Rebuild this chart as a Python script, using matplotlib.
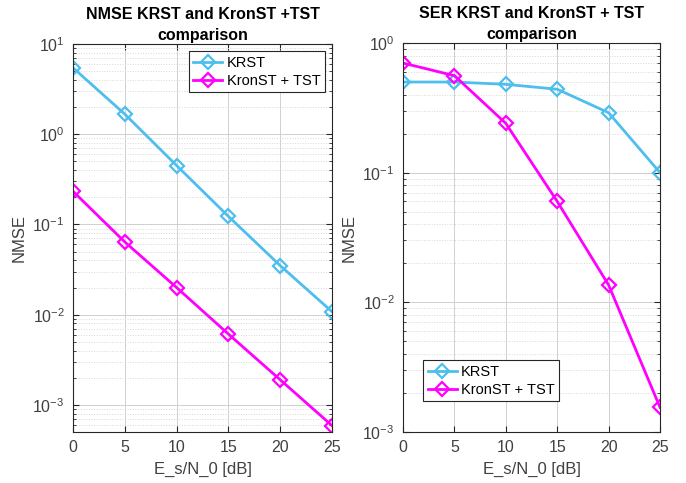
"""NMSE i SER - comparació KRST i KronST + TST"""

import matplotlib
matplotlib.use("Agg")
import matplotlib.pyplot as plt
from matplotlib.ticker import LogLocator, NullFormatter

plt.rcParams["font.family"] = ["Liberation Sans", "DejaVu Sans"]

# Dades
snr_db = [0, 5, 10, 15, 20, 25]
nmse_krst = [5.45, 1.67, 0.45, 0.123, 0.035, 0.0108]
nmse_kronst = [0.233, 0.064, 0.020, 0.0061, 0.0019, 0.00059]
ser_krst = [0.50, 0.50, 0.48, 0.44, 0.29, 0.10]
ser_kronst = [0.70, 0.56, 0.24, 0.060, 0.0136, 0.00155]

COLOR_KRST = "#4DBEEE"
COLOR_KRON = "#FF00FF"


def estil_eixos(ax):
    ax.set_yscale("log")
    ax.set_xlim(0, 25)
    ax.set_xticks(snr_db)
    ax.yaxis.set_major_locator(LogLocator(base=10, numticks=10))
    ax.yaxis.set_minor_locator(LogLocator(base=10, subs=range(2, 10), numticks=20))
    ax.yaxis.set_minor_formatter(NullFormatter())
    ax.grid(which="major", color="#d0d0d0", linewidth=0.7)
    ax.grid(which="minor", axis="y", color="#d8d8d8", linestyle=":", linewidth=0.7)
    ax.set_axisbelow(True)
    ax.tick_params(which="both", direction="in", top=True, right=True,
                   labelsize=11.5, colors="#262626", labelcolor="#404040")
    ax.tick_params(which="major", length=4, pad=6)
    ax.tick_params(which="minor", length=2)
    for s in ax.spines.values():
        s.set_color("#262626")
        s.set_linewidth(0.8)
    ax.set_xlabel("E_s/N_0 [dB]", fontsize=12, color="#404040", labelpad=5)
    ax.set_ylabel("NMSE", fontsize=12, color="#404040")


fig = plt.figure(figsize=(6.86, 4.83), dpi=100)
W, H = 686, 483
ax1 = fig.add_axes([73 / W, 1 - 432 / H, (332 - 73) / W, (432 - 44) / H])
ax2 = fig.add_axes([403 / W, 1 - 432 / H, (660 - 403) / W, (432 - 43) / H])

kw = dict(marker="D", markersize=7, markerfacecolor="none",
          markeredgewidth=1.6, linewidth=2)

# Gràfic NMSE
ax1.plot(snr_db, nmse_krst, color=COLOR_KRST, label="KRST", **kw)
ax1.plot(snr_db, nmse_kronst, color=COLOR_KRON, label="KronST + TST", **kw)
estil_eixos(ax1)
ax1.set_ylim(10 ** -3.3, 10)
ax1.set_title("NMSE KRST and KronST +TST\ncomparison", fontsize=11.5,
              fontweight="bold", pad=3, linespacing=1.45)
leg1 = ax1.legend(loc="upper right", fontsize=10.5, fancybox=False,
                  edgecolor="#262626", framealpha=1, borderaxespad=0.5,
                  handlelength=2.0, borderpad=0.3, labelspacing=0.3,
                  handletextpad=0.3)
leg1.get_frame().set_linewidth(0.8)

# Gràfic SER
ax2.plot(snr_db, ser_krst, color=COLOR_KRST, label="KRST", **kw)
ax2.plot(snr_db, ser_kronst, color=COLOR_KRON, label="KronST + TST", **kw)
estil_eixos(ax2)
ax2.set_ylim(1e-3, 1)
ax2.set_title("SER KRST and KronST + TST\ncomparison", fontsize=11.5,
              fontweight="bold", pad=3, linespacing=1.45)
leg2 = ax2.legend(loc="lower left", fontsize=10.5, fancybox=False,
                  edgecolor="#262626", framealpha=1,
                  bbox_to_anchor=(0.05, 0.06),
                  handlelength=2.0, borderpad=0.3, labelspacing=0.3,
                  handletextpad=0.3)
leg2.get_frame().set_linewidth(0.8)

plt.savefig("out.png", dpi=100)
plt.close(fig)
